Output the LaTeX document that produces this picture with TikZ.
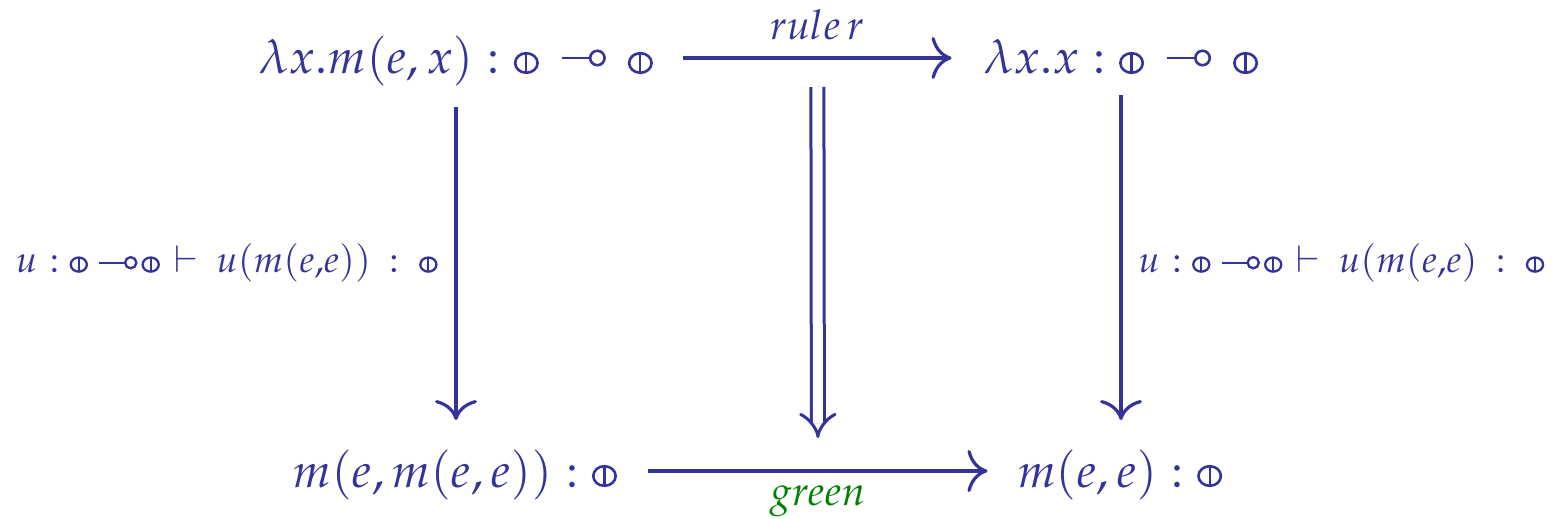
\documentclass[tikz,border=0pt]{standalone}
\usepackage{mathpazo}
\usetikzlibrary{arrows.meta,calc}
\definecolor{mainblue}{RGB}{51,51,153}
\definecolor{lblgreen}{RGB}{0,128,0}
% circled-bar proposition symbol: #1 scale, #2 line width
\newcommand{\psym}[2]{\tikz[baseline=0pt,x=#1pt,y=#1pt]{\draw[mainblue,line width=#2] (0,5.5) ellipse [x radius=5.6,y radius=4.9]; \draw[mainblue,line width=0.85*#2] (0,0.6)--(0,10.4);}}
% lollipop (multimap): #1 line length, #2 circle radius, #3 line width, #4 height above baseline
\newcommand{\msym}[4]{\tikz[baseline=-#4,x=1pt,y=1pt]{\draw[mainblue,line width=#3] (0,0)--(#1,0); \draw[mainblue,line width=#3] (#1+#2,0) circle [radius=#2];}}
\newcommand{\PB}{\psym{1}{1.3pt}}
\newcommand{\PS}{\psym{0.72}{1.15pt}}
\newcommand{\MB}{\msym{14}{3.6}{1.3pt}{8pt}}
\newcommand{\MS}{\msym{13}{2.8}{1.15pt}{4.9pt}}
\newcommand{\lbltext}[1]{$u\hspace{6pt}{:}\hspace{5pt}\PS\hspace{5pt}\MS\hspace{2pt}\PS\hspace{7pt}{\vdash}\hspace{9pt}#1\hspace{9pt}{:}\hspace{10pt}\PS$}
\begin{document}
\begin{tikzpicture}[x=0.5pt,y=-0.5pt,
  obj/.style={inner sep=0pt, text=mainblue, font=\fontsize{24}{28}\selectfont, anchor=base},
  lbl/.style={inner sep=0pt, text=mainblue, font=\fontsize{18.5}{22}\selectfont},
  arrlbl/.style={inner sep=0pt, font=\fontsize{20.5}{24}\selectfont, anchor=base},
  arr/.style={draw=mainblue, line width=1.6pt, -{Computer Modern Rightarrow[length=10pt,width=21pt]}},
  dbl/.style={draw=mainblue, line width=1.5pt, double=white, double distance=5pt, -{Implies[length=10pt,width=21pt]}}]
\useasboundingbox (0,0) rectangle (1557,519);
\node[obj] (tl) at (456,74) {$\lambda x.m(e,x) : \PB\hspace{11pt}\MB\hspace{11pt}\PB$};
\node[obj] (tr) at (1121,74) {$\lambda x.x : \PB\hspace{11pt}\MB\hspace{11pt}\PB$};
\node[obj] (bl) at (455,487) {$m(e,m(e,e)) : \PB$};
\node[obj] (br) at (1120,487) {$m(e,e) : \PB$};
% horizontal arrows
\draw[arr] ($(tl.base east)+(30,-16)$) -- coordinate[midway] (tm) ($(tr.base west)+(-32,-16)$);
\draw[arr] ($(bl.base east)+(31,-16)$) -- coordinate[midway] (bm) ($(br.base west)+(-30,-16)$);
\node[arrlbl, text=mainblue] (rr) at ($(tm)+(0,-18)$) {$rule\,r$};
\node[arrlbl, text=lblgreen] (gr) at ($(bm)+(0,34)$) {$green$};
% vertical arrows
\draw[arr] ($(tl.base)+(0,33)$) -- coordinate[midway] (lm) ($(tl.base |- bl.base)+(0,-67)$);
\draw[arr] ($(tr.base)+(0,21)$) -- coordinate[midway] (rm) ($(tr.base |- br.base)+(0,-67)$);
\node[lbl, anchor=base east] (ll) at ($(lm)+(-18,9)$) {\lbltext{u(m(e{,}e))}};
\node[lbl, anchor=base west] (rl) at ($(rm)+(17,15)$) {\lbltext{u(m(e{,}e)}};
% double arrow (2-cell)
\draw[dbl] ($(tm)+(0,29)$) -- ($(bm)+(0,-33)$);
\end{tikzpicture}
\end{document}
